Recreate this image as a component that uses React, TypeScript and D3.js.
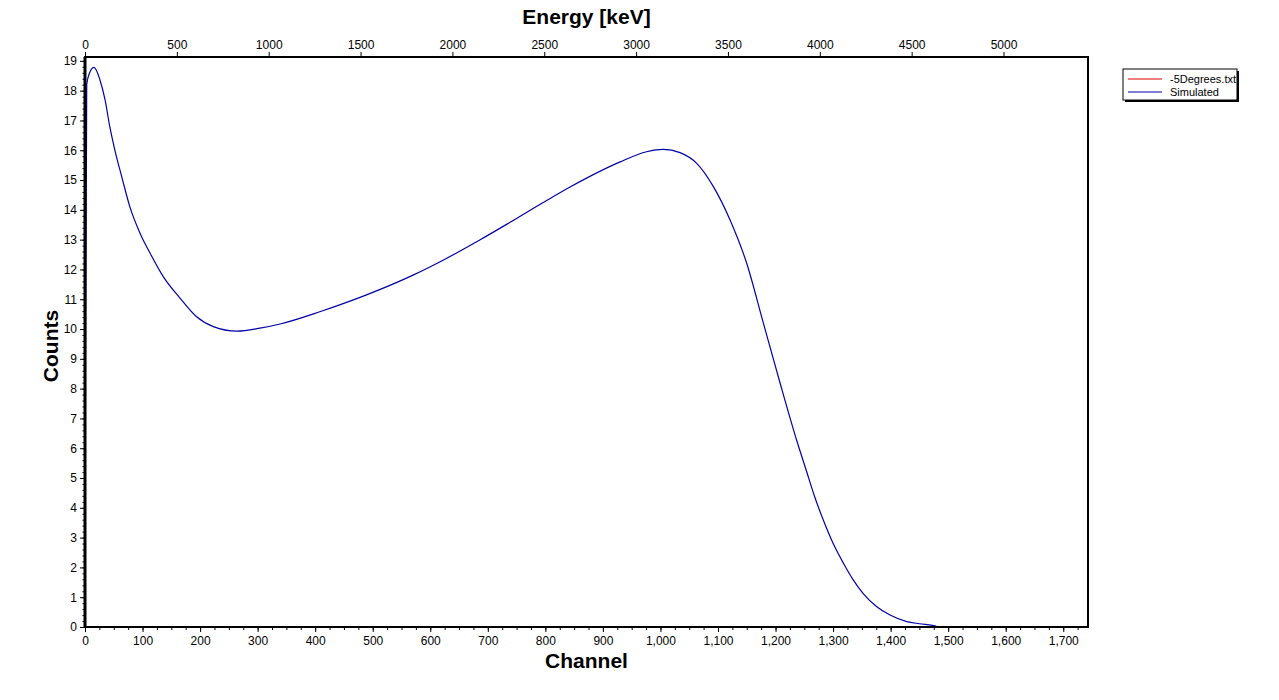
import React, { useEffect, useRef } from "react";
import * as d3 from "d3";

const channels = [0, 1, 3, 8, 15.6, 26, 35, 43, 52, 64, 78, 96, 113, 136, 165, 194, 223, 264, 304, 339, 408, 513, 570, 628, 686, 750, 843, 930, 976, 1005, 1034, 1063, 1092, 1121, 1150, 1179, 1208, 1237, 1254, 1268, 1283, 1300, 1318, 1335, 1352, 1376, 1399, 1428, 1450, 1477, 1482];
const simulatedCounts = [0, 9, 18.2, 18.6, 18.78, 18.36, 17.68, 16.8, 16.0, 15.1, 14.1, 13.2, 12.55, 11.76, 11.04, 10.41, 10.08, 9.93, 10.03, 10.17, 10.58, 11.33, 11.81, 12.37, 12.99, 13.71, 14.77, 15.61, 15.95, 16.03, 15.92, 15.56, 14.78, 13.66, 12.2, 10.19, 8.18, 6.25, 5.22, 4.37, 3.59, 2.81, 2.14, 1.58, 1.13, 0.68, 0.40, 0.18, 0.11, 0.04, 0];
const seriesNames = ["-5Degrees.txt", "Simulated"];
const seriesColors = ["#e00000", "#0000a8"];
const channelTicks = d3.range(0, 1701, 100);
const energyTicks = d3.range(0, 5001, 500);
const countTicks = d3.range(0, 20, 1);

const W = 1279, H = 700;
const L = 85, R = 1088, T = 57, B = 627;

export default function App() {
  const ref = useRef<SVGSVGElement>(null);
  useEffect(() => {
    const svg = d3.select(ref.current);
    svg.selectAll("*").remove();
    const x = d3.scaleLinear().domain([0, 1743]).range([L, R]);
    const xe = d3.scaleLinear().domain([0, 5460]).range([L, R]);
    const y = d3.scaleLinear().domain([0, 19.13]).range([B, T]);
    const font = "'Liberation Sans', Arial, sans-serif";

    svg.append("rect").attr("width", W).attr("height", H).attr("fill", "#fff");

    const gbm = svg.append("g").attr("transform", `translate(0,${B})`)
      .call(d3.axisBottom(x).tickValues(d3.range(0, 1743, 25)).tickSize(3).tickFormat(() => ""));
    gbm.select(".domain").remove();
    const gb = svg.append("g").attr("transform", `translate(0,${B})`)
      .call(d3.axisBottom(x).tickValues(channelTicks).tickSize(5).tickPadding(4).tickFormat(d3.format(",")));
    gb.select(".domain").remove();
    gb.selectAll("text").attr("font-size", 12).attr("font-family", font).attr("fill", "#000");

    const gtop = svg.append("g").attr("transform", `translate(0,${T})`)
      .call(d3.axisTop(xe).tickValues(energyTicks).tickSize(5).tickPadding(3).tickFormat(d3.format("d")));
    gtop.select(".domain").remove();
    gtop.selectAll("text").attr("font-size", 12).attr("font-family", font).attr("fill", "#000");

    const glm = svg.append("g").attr("transform", `translate(${L},0)`)
      .call(d3.axisLeft(y).tickValues(d3.range(0, 19.1, 0.2)).tickSize(2.5).tickFormat(() => ""));
    glm.select(".domain").remove();
    const gl = svg.append("g").attr("transform", `translate(${L},0)`)
      .call(d3.axisLeft(y).tickValues(countTicks).tickSize(5).tickPadding(3).tickFormat(d3.format("d")));
    gl.select(".domain").remove();
    gl.selectAll("text").attr("font-size", 12).attr("font-family", font).attr("fill", "#000");

    const data = channels.map((c, i) => [c, simulatedCounts[i]] as [number, number]);
    const line = d3.line<[number, number]>().x(d => x(d[0])).y(d => y(d[1])).curve(d3.curveMonotoneX);
    svg.append("path").attr("d", line(data)).attr("fill", "none").attr("stroke", seriesColors[1]).attr("stroke-width", 1.2);

    svg.append("rect").attr("x", L).attr("y", T).attr("width", R - L).attr("height", B - T)
      .attr("fill", "none").attr("stroke", "#000").attr("stroke-width", 2);
    svg.append("line").attr("x1", L).attr("x2", L).attr("y1", T).attr("y2", B).attr("stroke", "#000").attr("stroke-width", 3);

    svg.append("text").attr("x", (L + R) / 2).attr("y", 24).attr("text-anchor", "middle")
      .attr("font-family", font).attr("font-weight", "bold").attr("font-size", 21).text("Energy [keV]");
    svg.append("text").attr("x", (L + R) / 2).attr("y", 668).attr("text-anchor", "middle")
      .attr("font-family", font).attr("font-weight", "bold").attr("font-size", 21).text("Channel");
    svg.append("text").attr("transform", `translate(58,${(T + B) / 2 + 4}) rotate(-90)`).attr("text-anchor", "middle")
      .attr("font-family", font).attr("font-weight", "bold").attr("font-size", 21).text("Counts");

    const lx = 1123, ly = 69, lw = 114, lh = 31;
    svg.append("rect").attr("x", lx + 2).attr("y", ly + 2).attr("width", lw).attr("height", lh).attr("fill", "#000");
    svg.append("rect").attr("x", lx).attr("y", ly).attr("width", lw).attr("height", lh).attr("fill", "#fff").attr("stroke", "#000").attr("stroke-width", 1);
    seriesNames.forEach((n, i) => {
      const yy = ly + 10 + i * 13;
      svg.append("line").attr("x1", lx + 5).attr("x2", lx + 39).attr("y1", yy).attr("y2", yy).attr("stroke", seriesColors[i]).attr("stroke-width", 1);
      svg.append("text").attr("x", lx + 47).attr("y", yy + 4).attr("font-family", font).attr("font-size", 11).text(n);
    });
  }, []);
  return <svg ref={ref} width={W} height={H} style={{ position: "absolute", left: 0, top: 0 }} />;
}
